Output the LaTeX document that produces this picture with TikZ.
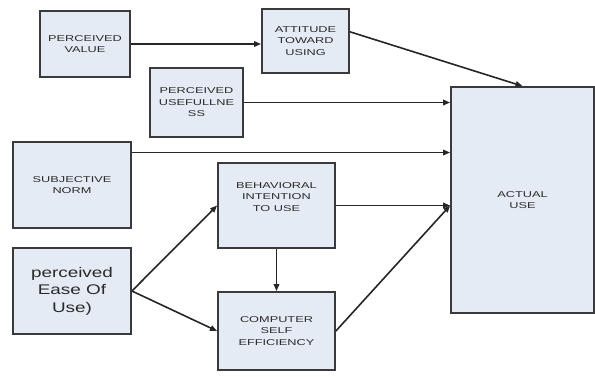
\documentclass[tikz,border=0pt]{standalone}
\usepackage{fontspec}
\usetikzlibrary{arrows.meta,calc}
\setmainfont{Liberation Sans}
\newfontfamily\boxcaps[FakeStretch=1.5]{Liberation Sans}
\newfontfamily\boxplain[FakeStretch=1.35]{Liberation Sans}
\definecolor{boxfill}{HTML}{E5EBF5}
\definecolor{boxline}{HTML}{3A3A3A}
\definecolor{wire}{HTML}{262626}
\definecolor{ink}{HTML}{2A2A2A}
\tikzset{
  blk/.style={draw=boxline, line width=1.8pt, fill=boxfill, inner sep=0pt,
    align=center, text=ink, font=\boxcaps\fontsize{8.5}{11.5}\selectfont},
  bigtext/.style={font=\boxplain\fontsize{14}{17.5}\selectfont},
  link/.style={draw=wire, line width=1.6pt,
    -{Triangle[length=7pt,width=5.5pt]}},
}
\begin{document}
\begin{tikzpicture}[x=1pt,y=-1pt]
\useasboundingbox (0,0) rectangle (595,376);
% boxes
\node[blk, minimum width=90pt, minimum height=66pt] (pv) at (85,44) {PERCEIVED\\VALUE};
\node[blk, minimum width=87pt, minimum height=64pt] (att) at (305.5,41) {ATTITUDE\\TOWARD\\USING};
\node[blk, minimum width=93pt, minimum height=69pt] (pu) at (196.5,102.5) {PERCEIVED\\USEFULLNE\\SS};
\node[blk, minimum width=118pt, minimum height=86pt] (sn) at (72,185) {SUBJECTIVE\\NORM};
\node[blk, minimum width=117pt, minimum height=85pt] (bi) at (276.5,205.5) {BEHAVIORAL\\INTENTION\\TO USE\\[6pt]};
\node[blk, minimum width=117pt, minimum height=78pt] (cse) at (276.5,331) {COMPUTER\\SELF\\EFFICIENCY};
\node[blk, bigtext, minimum width=118pt, minimum height=86pt] (peou) at (72,291) {perceived\\Ease Of\\Use)};
\node[blk, minimum width=143pt, minimum height=226pt] (act) at (522.5,200) {ACTUAL\\USE};
% connectors
\draw[link] (pv.east) -- (pv.east -| att.west);
\draw[link] ($(att.north east)!0.36!(att.south east)$) -- (act.north);
\draw[link] (pu.east) -- (pu.east -| act.west);
\draw[link] ($(sn.north east)!0.13!(sn.south east)$) coordinate (snout)
  -- (snout -| act.west);
\draw[link] (bi.east) -- (bi.east -| act.west) coordinate (actin);
\draw[link] (cse.east) -- (actin);
\draw[link] (peou.east) -- (bi.west);
\draw[link] (peou.east) -- (cse.west);
\draw[link] (bi.south) -- (cse.north);
\end{tikzpicture}
\end{document}
